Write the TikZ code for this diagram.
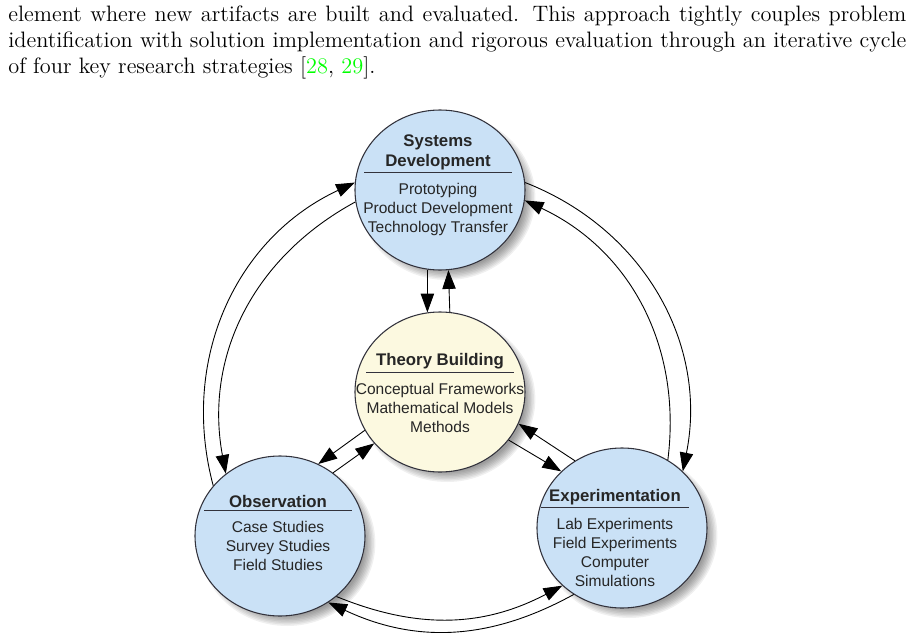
\documentclass[tikz,border=0pt]{standalone}
\usepackage{fontspec}
\newfontfamily\diagfont{Liberation Sans}
\usepackage{tikz}
\usetikzlibrary{backgrounds,positioning,shapes.geometric,arrows.meta}
\definecolor{bubbleblue}{RGB}{202,225,246}
\definecolor{bubblecream}{RGB}{252,249,224}
\definecolor{rimgray}{RGB}{50,50,60}
\newcommand{\parwidth}{502.9pt}
\tikzstyle{bubble}=[ellipse, draw=rimgray, line width=0.6pt, minimum width=95.2pt, minimum height=89.6pt, inner sep=0pt]
\tikzstyle{head}=[font=\diagfont\fontsize{9.4}{11.2}\selectfont\bfseries, align=center, minimum width=82pt, inner xsep=0pt, inner ysep=1.2pt, text=black!85]
\tikzstyle{items}=[font=\diagfont\fontsize{8.7}{10.6}\selectfont, align=center, inner sep=0pt, text=black!85]
\tikzstyle{para}=[font=\fontsize{12.5}{14.5}\selectfont, inner sep=0pt, anchor=base west]
\tikzstyle{link}=[line width=0.5pt, -{Triangle[length=10.5pt,width=7.5pt]}]

\begin{document}
\begin{tikzpicture}[x=0.56pt, y=-0.56pt]
    \useasboundingbox (0,0) rectangle (914,636);

    % text above the figure
    \node[para] (line1) at (8,21) {\makebox[\parwidth][s]{element where new artifacts are built and evaluated. This approach tightly couples problem}};
    \node[para] (line2) at (8,47) {\makebox[\parwidth][s]{identification with solution implementation and rigorous evaluation through an iterative cycle}};
    \node[para] (line3) at (8,73) {of four key research strategies [\textcolor{green}{28}, \textcolor{green}{29}].};

    % the four research strategies
    \node[bubble, fill=bubbleblue] (sysdev) at (440,190) {};
    \node[bubble, fill=bubblecream] (theory) at (440,392) {};
    \node[bubble, fill=bubbleblue] (obs) at (280,536) {};
    \node[bubble, fill=bubbleblue] (expt) at (622,528) {};

    \node[head, anchor=south] (sysdevH) at (438,172) {Systems\\Development};
    \node[items, below=6pt of sysdevH] (sysdevL) {Prototyping\\Product Development\\Technology Transfer};
    \node[head, anchor=south] (theoryH) at (440,372) {Theory Building};
    \node[items, below=6pt of theoryH] (theoryL) {Conceptual Frameworks\\Mathematical Models\\Methods};
    \node[head, anchor=south] (obsH) at (278,510) {Observation};
    \node[items, below=6pt of obsH] (obsL) {Case Studies\\Survey Studies\\Field Studies};
    \node[head, anchor=south] (exptH) at (615,507) {Experimentation};
    \node[items, below=6pt of exptH] (exptL) {Lab Experiments\\Field Experiments\\Computer\\Simulations};

    % rules under the headings
    \foreach \n in {sysdevH,theoryH,obsH,exptH} {
        \draw[rimgray, line width=0.45pt] (\n.south west) -- (\n.south east);
    }

    % soft shadows
    \begin{pgfonlayer}{background}
        \foreach \n in {sysdev,theory,obs,expt} {
            \foreach \k in {1,...,8} {
                \fill[black, opacity=0.06] ([xshift=4pt,yshift=-4pt]\n.center) ellipse [x radius=43pt+\k*0.8pt, y radius=40pt+\k*0.8pt];
            }
        }
    \end{pgfonlayer}

    % outer cycle
    \draw[link] (obs.143) to[bend left=40] (sysdev.175);
    \draw[link] (sysdev.188) to[bend right=36] (obs.131);
    \draw[link] (sysdev.5) to[bend left=40] (expt.43);
    \draw[link] (expt.56) to[bend right=36] (sysdev.353);
    \draw[link] (obs.313) to[bend right=25] (expt.224);
    \draw[link] (expt.234) to[bend left=27] (obs.306);

    % links to theory building
    \draw[link] (sysdev.261) -- (theory.99);
    \draw[link] (theory.83) -- (sysdev.276);
    \draw[link] (theory.207) -- (obs.62);
    \draw[link] (obs.50) -- (theory.218);
    \draw[link] (expt.125) -- (theory.338);
    \draw[link] (theory.325) -- (expt.137);
\end{tikzpicture}
\end{document}
